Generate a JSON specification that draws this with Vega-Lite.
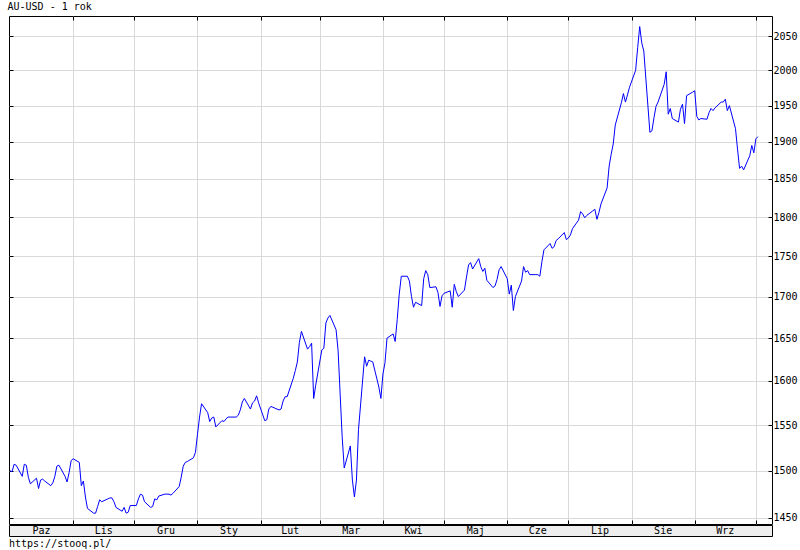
{
  "$schema": "https://vega.github.io/schema/vega-lite/v6.json",
  "background": "white",
  "padding": {"left": 7, "top": 2, "right": 0, "bottom": 0},
  "title": {"text": "AU-USD - 1 rok", "anchor": "start", "font": "DejaVu Sans Mono", "fontSize": 10, "fontWeight": "normal", "color": "black", "offset": 3},
  "spacing": -1,
  "datasets": {
    "gold": [
      {"date":"2019-10-01","price":1500},{"date":"2019-10-02","price":1499},{"date":"2019-10-03","price":1507},{"date":"2019-10-04","price":1506},
      {"date":"2019-10-07","price":1494},{"date":"2019-10-08","price":1507},{"date":"2019-10-09","price":1506},{"date":"2019-10-10","price":1493},{"date":"2019-10-11","price":1486},
      {"date":"2019-10-14","price":1492},{"date":"2019-10-15","price":1481},{"date":"2019-10-16","price":1490},{"date":"2019-10-17","price":1491},{"date":"2019-10-18","price":1489},
      {"date":"2019-10-21","price":1484},{"date":"2019-10-22","price":1487},{"date":"2019-10-23","price":1494},{"date":"2019-10-24","price":1505},{"date":"2019-10-25","price":1506},
      {"date":"2019-10-28","price":1494},{"date":"2019-10-29","price":1488},{"date":"2019-10-30","price":1498},{"date":"2019-10-31","price":1511},
      {"date":"2019-11-01","price":1513},
      {"date":"2019-11-04","price":1509},{"date":"2019-11-05","price":1484},{"date":"2019-11-06","price":1489},{"date":"2019-11-07","price":1472},{"date":"2019-11-08","price":1460},
      {"date":"2019-11-11","price":1455},{"date":"2019-11-12","price":1455},{"date":"2019-11-13","price":1462},{"date":"2019-11-14","price":1469},{"date":"2019-11-15","price":1467},
      {"date":"2019-11-18","price":1470},{"date":"2019-11-19","price":1471},{"date":"2019-11-20","price":1471},{"date":"2019-11-21","price":1467},{"date":"2019-11-22","price":1461},
      {"date":"2019-11-25","price":1457},{"date":"2019-11-26","price":1461},{"date":"2019-11-27","price":1455},{"date":"2019-11-28","price":1456},{"date":"2019-11-29","price":1463},
      {"date":"2019-12-02","price":1463},{"date":"2019-12-03","price":1470},{"date":"2019-12-04","price":1475},{"date":"2019-12-05","price":1474},{"date":"2019-12-06","price":1467},
      {"date":"2019-12-09","price":1461},{"date":"2019-12-10","price":1462},{"date":"2019-12-11","price":1470},{"date":"2019-12-12","price":1469},{"date":"2019-12-13","price":1473},
      {"date":"2019-12-16","price":1475},{"date":"2019-12-17","price":1475},{"date":"2019-12-18","price":1475},{"date":"2019-12-19","price":1474},{"date":"2019-12-20","price":1476},
      {"date":"2019-12-23","price":1483},{"date":"2019-12-24","price":1493},{"date":"2019-12-25","price":1505},{"date":"2019-12-26","price":1509},{"date":"2019-12-27","price":1510},
      {"date":"2019-12-30","price":1514},{"date":"2019-12-31","price":1520},
      {"date":"2020-01-01","price":1540},{"date":"2020-01-02","price":1559},{"date":"2020-01-03","price":1574},
      {"date":"2020-01-06","price":1564},{"date":"2020-01-07","price":1554},{"date":"2020-01-08","price":1558},{"date":"2020-01-09","price":1559},{"date":"2020-01-10","price":1548},
      {"date":"2020-01-13","price":1555},{"date":"2020-01-14","price":1554},{"date":"2020-01-15","price":1557},{"date":"2020-01-16","price":1559},{"date":"2020-01-17","price":1559},
      {"date":"2020-01-20","price":1559},{"date":"2020-01-21","price":1561},{"date":"2020-01-22","price":1567},{"date":"2020-01-23","price":1576},{"date":"2020-01-24","price":1580},
      {"date":"2020-01-27","price":1568},{"date":"2020-01-28","price":1575},{"date":"2020-01-29","price":1577},{"date":"2020-01-30","price":1583},{"date":"2020-01-31","price":1575},
      {"date":"2020-02-03","price":1555},{"date":"2020-02-04","price":1556},{"date":"2020-02-05","price":1568},{"date":"2020-02-06","price":1571},{"date":"2020-02-07","price":1570},
      {"date":"2020-02-10","price":1567},{"date":"2020-02-11","price":1568},{"date":"2020-02-12","price":1577},{"date":"2020-02-13","price":1582},{"date":"2020-02-14","price":1582},
      {"date":"2020-02-17","price":1603},{"date":"2020-02-18","price":1612},{"date":"2020-02-19","price":1622},{"date":"2020-02-20","price":1645},{"date":"2020-02-21","price":1658},
      {"date":"2020-02-24","price":1637},{"date":"2020-02-25","price":1640},{"date":"2020-02-26","price":1644},{"date":"2020-02-27","price":1580},{"date":"2020-02-28","price":1595},
      {"date":"2020-03-02","price":1636},{"date":"2020-03-03","price":1638},{"date":"2020-03-04","price":1668},{"date":"2020-03-05","price":1674},{"date":"2020-03-06","price":1677},
      {"date":"2020-03-09","price":1660},{"date":"2020-03-10","price":1635},{"date":"2020-03-11","price":1585},{"date":"2020-03-12","price":1537},{"date":"2020-03-13","price":1503},
      {"date":"2020-03-16","price":1527},{"date":"2020-03-17","price":1490},{"date":"2020-03-18","price":1472},{"date":"2020-03-19","price":1490},{"date":"2020-03-20","price":1545},
      {"date":"2020-03-23","price":1628},{"date":"2020-03-24","price":1617},{"date":"2020-03-25","price":1624},{"date":"2020-03-26","price":1623},{"date":"2020-03-27","price":1622},
      {"date":"2020-03-30","price":1593},{"date":"2020-03-31","price":1580},
      {"date":"2020-04-01","price":1608},{"date":"2020-04-02","price":1621},{"date":"2020-04-03","price":1650},
      {"date":"2020-04-06","price":1655},{"date":"2020-04-07","price":1646},{"date":"2020-04-08","price":1672},{"date":"2020-04-09","price":1703},{"date":"2020-04-10","price":1725},
      {"date":"2020-04-13","price":1725},{"date":"2020-04-14","price":1719},{"date":"2020-04-15","price":1700},{"date":"2020-04-16","price":1687},{"date":"2020-04-17","price":1693},
      {"date":"2020-04-20","price":1689},{"date":"2020-04-21","price":1722},{"date":"2020-04-22","price":1732},{"date":"2020-04-23","price":1727},{"date":"2020-04-24","price":1711},
      {"date":"2020-04-27","price":1712},{"date":"2020-04-28","price":1705},{"date":"2020-04-29","price":1688},{"date":"2020-04-30","price":1701},
      {"date":"2020-05-01","price":1704},
      {"date":"2020-05-04","price":1707},{"date":"2020-05-05","price":1687},{"date":"2020-05-06","price":1715},{"date":"2020-05-07","price":1706},{"date":"2020-05-08","price":1700},
      {"date":"2020-05-11","price":1708},{"date":"2020-05-12","price":1724},{"date":"2020-05-13","price":1739},{"date":"2020-05-14","price":1742},{"date":"2020-05-15","price":1734},
      {"date":"2020-05-18","price":1747},{"date":"2020-05-19","price":1737},{"date":"2020-05-20","price":1731},{"date":"2020-05-21","price":1735},{"date":"2020-05-22","price":1720},
      {"date":"2020-05-25","price":1711},{"date":"2020-05-26","price":1713},{"date":"2020-05-27","price":1721},{"date":"2020-05-28","price":1733},{"date":"2020-05-29","price":1737},
      {"date":"2020-06-01","price":1722},{"date":"2020-06-02","price":1703},{"date":"2020-06-03","price":1714},{"date":"2020-06-04","price":1683},{"date":"2020-06-05","price":1700},
      {"date":"2020-06-08","price":1719},{"date":"2020-06-09","price":1737},{"date":"2020-06-10","price":1730},{"date":"2020-06-11","price":1732},{"date":"2020-06-12","price":1727},
      {"date":"2020-06-15","price":1727},{"date":"2020-06-16","price":1727},{"date":"2020-06-17","price":1725},{"date":"2020-06-18","price":1743},{"date":"2020-06-19","price":1758},
      {"date":"2020-06-22","price":1766},{"date":"2020-06-23","price":1760},{"date":"2020-06-24","price":1762},{"date":"2020-06-25","price":1770},{"date":"2020-06-26","price":1772},
      {"date":"2020-06-29","price":1780},{"date":"2020-06-30","price":1771},
      {"date":"2020-07-01","price":1773},{"date":"2020-07-02","price":1777},{"date":"2020-07-03","price":1785},
      {"date":"2020-07-06","price":1796},{"date":"2020-07-07","price":1807},{"date":"2020-07-08","price":1804},{"date":"2020-07-09","price":1799},{"date":"2020-07-10","price":1802},
      {"date":"2020-07-13","price":1808},{"date":"2020-07-14","price":1810},{"date":"2020-07-15","price":1797},{"date":"2020-07-16","price":1806},{"date":"2020-07-17","price":1817},
      {"date":"2020-07-20","price":1838},{"date":"2020-07-21","price":1867},{"date":"2020-07-22","price":1883},{"date":"2020-07-23","price":1897},{"date":"2020-07-24","price":1923},
      {"date":"2020-07-27","price":1954},{"date":"2020-07-28","price":1967},{"date":"2020-07-29","price":1955},{"date":"2020-07-30","price":1965},{"date":"2020-07-31","price":1976},
      {"date":"2020-08-03","price":2000},{"date":"2020-08-04","price":2033},{"date":"2020-08-05","price":2064},{"date":"2020-08-06","price":2040},{"date":"2020-08-07","price":2028},
      {"date":"2020-08-10","price":1913},{"date":"2020-08-11","price":1915},{"date":"2020-08-12","price":1933},{"date":"2020-08-13","price":1949},{"date":"2020-08-14","price":1955},
      {"date":"2020-08-17","price":1980},{"date":"2020-08-18","price":1998},{"date":"2020-08-19","price":1938},{"date":"2020-08-20","price":1946},{"date":"2020-08-21","price":1932},
      {"date":"2020-08-24","price":1927},{"date":"2020-08-25","price":1945},{"date":"2020-08-26","price":1952},{"date":"2020-08-27","price":1925},{"date":"2020-08-28","price":1964},
      {"date":"2020-08-31","price":1969},
      {"date":"2020-09-01","price":1971},{"date":"2020-09-02","price":1935},{"date":"2020-09-03","price":1930},{"date":"2020-09-04","price":1932},
      {"date":"2020-09-07","price":1931},{"date":"2020-09-08","price":1940},{"date":"2020-09-09","price":1946},{"date":"2020-09-10","price":1943},{"date":"2020-09-11","price":1947},
      {"date":"2020-09-14","price":1955},{"date":"2020-09-15","price":1955},{"date":"2020-09-16","price":1959},{"date":"2020-09-17","price":1943},{"date":"2020-09-18","price":1950},
      {"date":"2020-09-21","price":1918},{"date":"2020-09-22","price":1890},{"date":"2020-09-23","price":1864},{"date":"2020-09-24","price":1867},{"date":"2020-09-25","price":1862},
      {"date":"2020-09-28","price":1881},{"date":"2020-09-29","price":1895},{"date":"2020-09-30","price":1885},
      {"date":"2020-10-01","price":1904},{"date":"2020-10-02","price":1907}
    ]
  },
  "vconcat": [
    {
      "width": 763,
      "height": 508,
      "view": {"stroke": "black", "strokeWidth": 1, "fill": "white"},
      "data": {"name": "gold"},
      "layer": [
        {
          "mark": {"type": "line", "color": "#0000ff", "strokeWidth": 1, "interpolate": "linear"},
          "encoding": {
            "x": {
              "field": "date", "type": "temporal",
              "scale": {"type": "utc", "nice": false, "domain": [{"year": 2019, "month": 9, "date": 30, "hours": 12, "utc": true}, {"year": 2020, "month": 10, "date": 8, "hours": 22, "utc": true}]},
              "axis": {
                "orient": "bottom", "title": null, "labels": false, "domain": false, "grid": true, "ticks": true, "tickSize": -4,
                "values": [
                  {"year": 2019, "month": 11, "date": 1, "utc": true}, {"year": 2019, "month": 12, "date": 1, "utc": true},
                  {"year": 2020, "month": 1, "date": 1, "utc": true}, {"year": 2020, "month": 2, "date": 1, "utc": true},
                  {"year": 2020, "month": 3, "date": 1, "utc": true}, {"year": 2020, "month": 4, "date": 1, "utc": true},
                  {"year": 2020, "month": 5, "date": 1, "utc": true}, {"year": 2020, "month": 6, "date": 1, "utc": true},
                  {"year": 2020, "month": 7, "date": 1, "utc": true}, {"year": 2020, "month": 8, "date": 1, "utc": true},
                  {"year": 2020, "month": 9, "date": 1, "utc": true}, {"year": 2020, "month": 10, "date": 1, "utc": true}
                ]
              }
            },
            "y": {
              "field": "price", "type": "quantitative",
              "scale": {"type": "log", "domain": [1443.7, 2079.7], "nice": false, "zero": false},
              "axis": {
                "orient": "right", "title": null, "domain": false, "grid": true, "ticks": true, "tickSize": -4,
                "format": "d", "labelPadding": 5, "labelFlush": false, "labelOverlap": false,
                "values": [1450, 1500, 1550, 1600, 1650, 1700, 1750, 1800, 1850, 1900, 1950, 2000, 2050]
              }
            }
          }
        },
        {
          "mark": {"type": "line", "strokeOpacity": 0},
          "encoding": {
            "x": {
              "field": "date", "type": "temporal",
              "scale": {"type": "utc", "nice": false, "domain": [{"year": 2019, "month": 9, "date": 30, "hours": 12, "utc": true}, {"year": 2020, "month": 10, "date": 8, "hours": 22, "utc": true}]},
              "axis": {
                "orient": "top", "title": null, "labels": false, "domain": false, "grid": false, "ticks": true, "tickSize": -4,
                "values": [
                  {"year": 2019, "month": 11, "date": 1, "utc": true}, {"year": 2019, "month": 12, "date": 1, "utc": true},
                  {"year": 2020, "month": 1, "date": 1, "utc": true}, {"year": 2020, "month": 2, "date": 1, "utc": true},
                  {"year": 2020, "month": 3, "date": 1, "utc": true}, {"year": 2020, "month": 4, "date": 1, "utc": true},
                  {"year": 2020, "month": 5, "date": 1, "utc": true}, {"year": 2020, "month": 6, "date": 1, "utc": true},
                  {"year": 2020, "month": 7, "date": 1, "utc": true}, {"year": 2020, "month": 8, "date": 1, "utc": true},
                  {"year": 2020, "month": 9, "date": 1, "utc": true}, {"year": 2020, "month": 10, "date": 1, "utc": true}
                ]
              }
            },
            "y": {
              "field": "price", "type": "quantitative",
              "scale": {"type": "log", "domain": [1443.7, 2079.7], "nice": false, "zero": false},
              "axis": {
                "orient": "left", "title": null, "domain": false, "grid": false, "labels": false, "ticks": true, "tickSize": -4,
                "values": [1450, 1500, 1550, 1600, 1650, 1700, 1750, 1800, 1850, 1900, 1950, 2000, 2050]
              }
            }
          }
        }
      ],
      "resolve": {"axis": {"x": "independent", "y": "independent"}}
    },
    {
      "width": 763,
      "height": 11,
      "view": {"stroke": "black", "strokeWidth": 1, "fill": "#eeeeee"},
      "data": {"name": "gold"},
      "transform": [
        {"timeUnit": "utcyearmonth", "field": "date", "as": "m"},
        {"aggregate": [{"op": "count", "as": "n"}], "groupby": ["m"]},
        {"filter": "datum.m < utc(2020, 9, 1)"}
      ],
      "mark": {"type": "text", "font": "DejaVu Sans Mono", "fontSize": 10, "color": "black", "baseline": "middle", "align": "center"},
      "encoding": {
        "x": {
          "field": "m", "type": "temporal", "timeUnit": "utcyearmonth", "bandPosition": 0.5,
          "scale": {"type": "utc", "nice": false, "domain": [{"year": 2019, "month": 9, "date": 30, "hours": 12, "utc": true}, {"year": 2020, "month": 10, "date": 8, "hours": 22, "utc": true}]},
          "axis": null
        },
        "text": {"field": "m", "type": "temporal", "timeUnit": "utcmonth", "format": "%b"}
      },
      "title": {"text": "https://stooq.pl/", "orient": "bottom", "anchor": "start", "font": "DejaVu Sans Mono", "fontSize": 10, "fontWeight": "normal", "color": "black", "offset": 3}
    }
  ],
  "config": {
    "view": {"stroke": null},
    "axis": {
      "labelFont": "DejaVu Sans Mono", "labelFontSize": 10, "labelColor": "black",
      "gridColor": "#d9d9d9", "gridWidth": 1, "gridOpacity": 1,
      "tickColor": "black", "tickWidth": 1
    },
    "locale": {
      "time": {
        "dateTime": "%A, %e %B %Y, %X",
        "date": "%d.%m.%Y",
        "time": "%H:%M:%S",
        "periods": ["AM", "PM"],
        "days": ["Niedziela", "Poniedziałek", "Wtorek", "Środa", "Czwartek", "Piątek", "Sobota"],
        "shortDays": ["Nie", "Pon", "Wto", "Śro", "Czw", "Pią", "Sob"],
        "months": ["Styczeń", "Luty", "Marzec", "Kwiecień", "Maj", "Czerwiec", "Lipiec", "Sierpień", "Wrzesień", "Październik", "Listopad", "Grudzień"],
        "shortMonths": ["Sty", "Lut", "Mar", "Kwi", "Maj", "Cze", "Lip", "Sie", "Wrz", "Paz", "Lis", "Gru"]
      }
    }
  }
}
